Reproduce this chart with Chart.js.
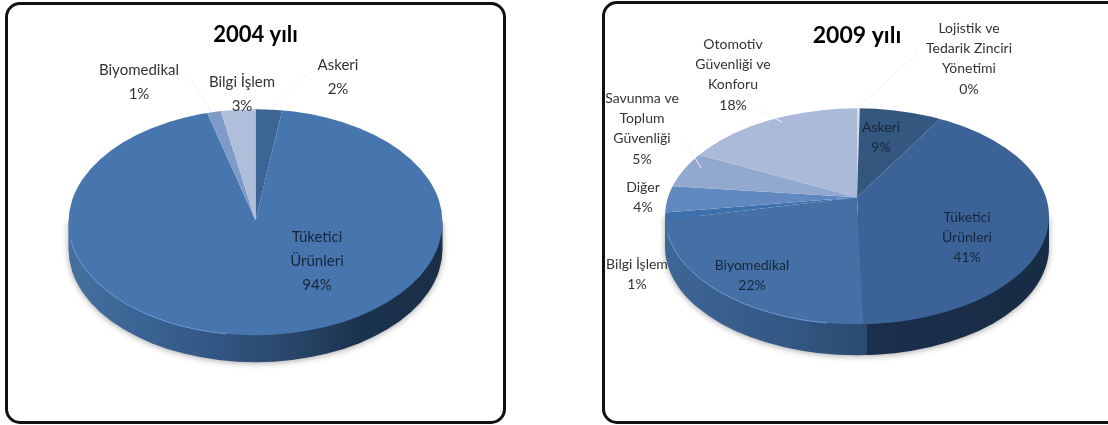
<!DOCTYPE html>
<html>
<head>
<meta charset="utf-8">
<script src="https://cdn.jsdelivr.net/npm/chart.js@4"></script>
<style>
html, body { margin: 0; padding: 0; background: #fff; overflow: hidden; }
#page { position: relative; width: 1108px; height: 425px; }
.panel { position: absolute; box-sizing: border-box; background: #fff; border: 3px solid #111; border-radius: 15px; }
.wrap { position: absolute; top: 0; height: 425px; }
</style>
</head>
<body>
<div id="page">
    <div class="panel" style="left:5px;top:2px;width:501px;height:422px"></div>
    <div class="panel" style="left:602px;top:1px;width:520px;height:423px"></div>
    <div class="wrap" style="left:0;width:511px"><canvas id="chart2004"></canvas></div>
    <div class="wrap" style="left:606px;width:502px"><canvas id="chart2009"></canvas></div>
</div>
<script>
let categories2004 = [["Askeri"], ["Tüketici", "Ürünleri"], ["Biyomedikal"], ["Bilgi İşlem"]]
let values2004 = [2.3, 93.5, 1.2, 3]
let colors2004 = ["#3c6494", "#4775ad", "#7e9bc8", "#b0bfd9"]

let categories2009 = [["Lojistik ve", "Tedarik Zinciri", "Yönetimi"], ["Askeri"], ["Tüketici", "Ürünleri"], ["Biyomedikal"],
    ["Bilgi İşlem"], ["Diğer"], ["Savunma ve", "Toplum", "Güvenliği"], ["Otomotiv", "Güvenliği ve", "Konforu"]]
let values2009 = [0.3, 8.7, 40.5, 22.4, 1, 3.7, 5.1, 18.3]
let colors2009 = ["#d5dbe9", "#34577f", "#3c6397", "#4470a6", "#3d71ad", "#6189bf", "#92a8cf", "#abbad8"]

// label placement in canvas pixels: centre x, y of first line
let labelPos2004 = [[338, 65], [317, 237], [139, 70], [242, 82]]
let labelPos2009 = [[363, 28], [275, 127], [361, 217], [146, 265], [31, 264], [37, 187], [36, 98], [127, 44]]

let leaders2004 = [[[270, 110], [310, 72]], [], [[188, 75], [212, 112]], []]
let leaders2009 = [[[252, 108], [312, 52]], [], [], [], [], [], [[80, 143], [95, 168]], [[152, 110], [176, 122]]]

const squash = 0.6

const piePlugin = {
    id: "pie3d",
    beforeDatasetsDraw(chart, args, o) {
        let ctx = chart.ctx
        let a = chart.getDatasetMeta(0).data[0]
        let cy = a.y + o.dy
        // side wall
        ctx.save()
        let grad = ctx.createLinearGradient(a.x - o.rx, 0, a.x + o.rx, 0)
        o.rimStops.forEach(s => grad.addColorStop(s[0], s[1]))
        ctx.shadowColor = "rgba(0,0,0,0.35)"
        ctx.shadowBlur = 6
        ctx.shadowOffsetY = 1
        ctx.fillStyle = grad
        ctx.beginPath()
        ctx.ellipse(a.x, cy + o.depth, o.rx, o.ry, 0, 0, Math.PI)
        ctx.lineTo(a.x - o.rx, cy)
        ctx.lineTo(a.x + o.rx, cy)
        ctx.closePath()
        ctx.fill()
        ctx.restore()
        // top face: slices squashed around the apex, cut to the ellipse
        ctx.save()
        ctx.beginPath()
        ctx.ellipse(a.x, cy, o.rx, o.ry, 0, 0, Math.PI * 2)
        ctx.clip()
        ctx.translate(a.x, a.y)
        ctx.scale(1, squash)
        ctx.translate(-a.x, -a.y)
    },
    afterDatasetsDraw(chart, args, o) {
        let ctx = chart.ctx
        ctx.restore()
        let a = chart.getDatasetMeta(0).data[0]
        // lighter edge on the front of the top face
        ctx.save()
        ctx.strokeStyle = o.edge
        ctx.lineWidth = 1
        ctx.beginPath()
        ctx.ellipse(a.x, a.y + o.dy, o.rx, o.ry, 0, Math.PI * 0.55, Math.PI * 0.95)
        ctx.stroke()
        ctx.restore()
        // leader lines and labels
        ctx.save()
        ctx.strokeStyle = "#f0f1f4"
        ctx.lineWidth = 1
        o.leaders.forEach(l => {
            if (l.length) {
                ctx.beginPath()
                ctx.moveTo(l[0][0], l[0][1])
                ctx.lineTo(l[1][0], l[1][1])
                ctx.stroke()
            }
        })
        ctx.font = o.fontSize + "px Lato"
        ctx.textAlign = "center"
        ctx.textBaseline = "middle"
        chart.data.labels.forEach((lines, i) => {
            let pos = o.labelPos[i]
            let text = lines.concat(Math.round(chart.data.datasets[0].data[i]) + "%")
            ctx.fillStyle = o.inside.includes(i) ? "#16263a" : "#333"
            text.forEach((t, j) => ctx.fillText(t, pos[0], pos[1] + j * o.lineHeight))
        })
        ctx.restore()
    }
}

function makeChart(id, title, titleSize, labels, values, colors, pad, pie) {
    return new Chart(document.getElementById(id), {
        type: "pie",
        data: {
            labels: labels,
            datasets: [{ data: values, backgroundColor: colors, borderWidth: 0, clip: false }]
        },
        options: {
            responsive: true,
            maintainAspectRatio: false,
            animation: false,
            radius: 240,
            layout: { padding: { bottom: pad } },
            events: [],
            plugins: {
                legend: { display: false },
                tooltip: { enabled: false },
                title: {
                    display: true,
                    text: title,
                    color: "#000",
                    font: { family: "Lato", size: titleSize, weight: "bold" },
                    padding: { top: 22, bottom: 0 }
                },
                pie3d: pie
            }
        },
        plugins: [piePlugin]
    })
}

makeChart("chart2004", "2004 yılı", 22, categories2004, values2004, colors2004, 33, {
    rx: 187, ry: 113, dy: 2, depth: 27,
    rimStops: [[0, "#44709f"], [0.35, "#34598a"], [0.6, "#294669"], [0.78, "#1b324c"], [1, "#1a2f47"]],
    edge: "#6f9bd6",
    labelPos: labelPos2004, leaders: leaders2004, inside: [1],
    fontSize: 15, lineHeight: 24
})

makeChart("chart2009", "2009 yılı", 23, categories2009, values2009, colors2009, 80, {
    rx: 192, ry: 108, dy: 19, depth: 31,
    rimStops: [[0, "#3e6696"], [0.35, "#325682"], [0.525, "#2a4a70"], [0.526, "#1b2f4b"], [1, "#182c45"]],
    edge: "#6f9bd6",
    labelPos: labelPos2009, leaders: leaders2009, inside: [1, 2, 3],
    fontSize: 14, lineHeight: 20.4
})
</script>
</body>
</html>
